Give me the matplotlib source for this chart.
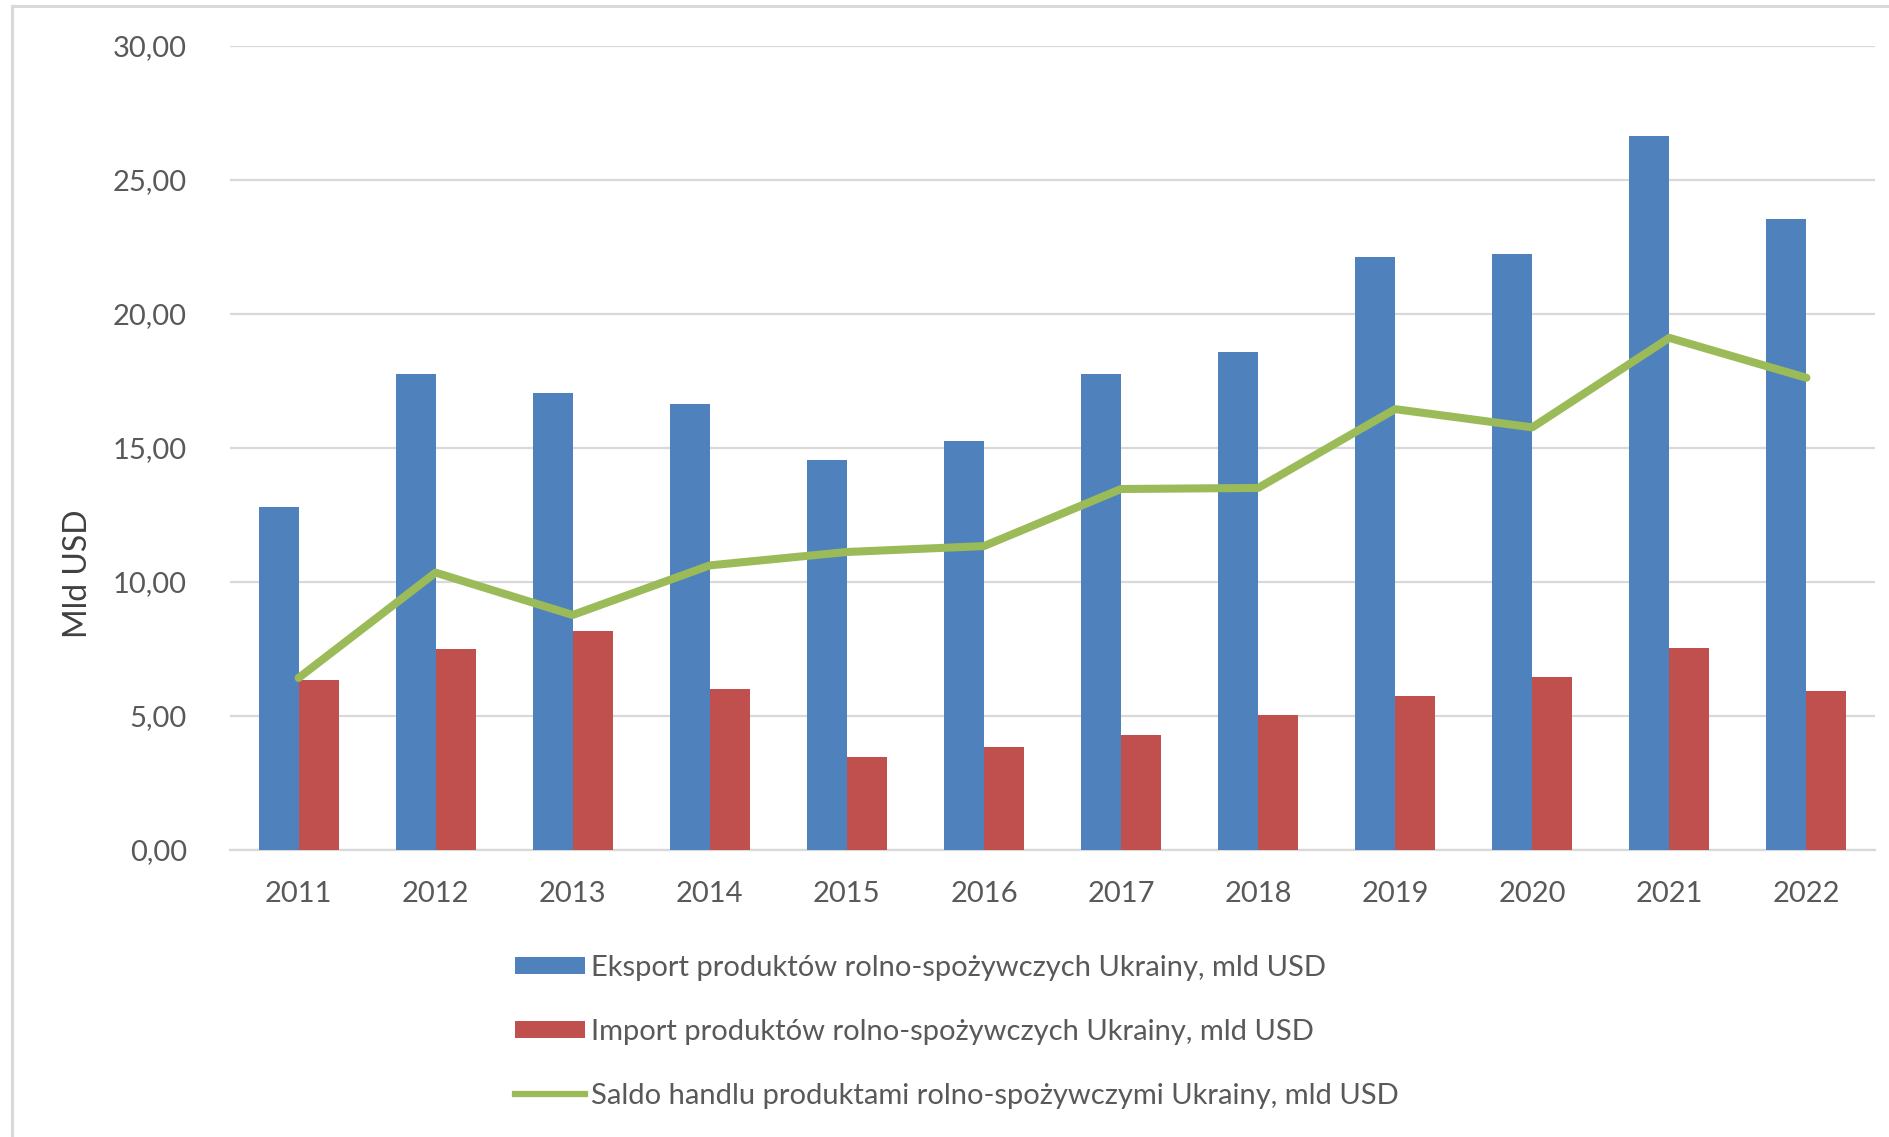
import matplotlib
matplotlib.use("Agg")
import matplotlib.pyplot as plt
import numpy as np
from matplotlib.patches import Patch
from matplotlib.lines import Line2D
from matplotlib.ticker import FuncFormatter

years = ["2011", "2012", "2013", "2014", "2015", "2016", "2017", "2018", "2019", "2020", "2021", "2022"]
eksport = [12.79, 17.76, 17.04, 16.63, 14.55, 15.27, 17.76, 18.57, 22.14, 22.23, 26.66, 23.54]
import_ = [6.33, 7.50, 8.18, 6.01, 3.48, 3.84, 4.29, 5.02, 5.74, 6.46, 7.55, 5.92]
saldo = [6.42, 10.35, 8.77, 10.62, 11.12, 11.34, 13.47, 13.51, 16.45, 15.77, 19.11, 17.62]

labels = [
    "Eksport produktów rolno-spożywczych Ukrainy, mld USD",
    "Import produktów rolno-spożywczych Ukrainy, mld USD",
    "Saldo handlu produktami rolno-spożywczymi Ukrainy, mld USD",
]

BLUE = "#4F81BD"
RED = "#C0504D"
GREEN = "#9BBB59"
GRID = "#D9D9D9"
TXT = "#595959"

plt.rcParams['font.family'] = ['Lato', 'DejaVu Sans']

W, H = 1890, 1137
fig = plt.figure(figsize=(W / 100, H / 100), dpi=100)
fig.patch.set_facecolor("white")

ax = fig.add_axes([230 / W, 1 - 850 / H, 1645 / W, 804 / H])

x = np.arange(len(years))
w = 0.292
ax.bar(x - w / 2, eksport, width=w, color=BLUE, zorder=3)
ax.bar(x + w / 2, import_, width=w, color=RED, zorder=3)
ax.plot(x, saldo, color=GREEN, linewidth=5.8, solid_capstyle="round", solid_joinstyle="round", zorder=4)

ax.set_xlim(-0.5, len(years) - 0.5)
ax.set_ylim(0, 30)
ax.set_yticks(np.arange(0, 31, 5))
ax.yaxis.set_major_formatter(FuncFormatter(lambda v, p: f"{v:.2f}".replace(".", ",")))
ax.set_xticks(x)
ax.set_xticklabels(years)

ax.grid(axis="y", color=GRID, linewidth=1.6, zorder=0)
ax.set_axisbelow(True)
for s in ["top", "right", "left"]:
    ax.spines[s].set_visible(False)
ax.spines["bottom"].set_color(GRID)
ax.spines["bottom"].set_linewidth(1.6)
ax.tick_params(axis="both", length=0, labelsize=21, labelcolor=TXT)
ax.tick_params(axis="y", pad=31)
ax.tick_params(axis="x", pad=22)

fig.text(78 / W, 1 - 574 / H, "Mld USD", rotation=90, ha="center", va="center",
         fontsize=23, color="#404040")

handles = [
    Patch(facecolor=BLUE, edgecolor="none"),
    Patch(facecolor=RED, edgecolor="none"),
    Line2D([0], [0], color=GREEN, linewidth=4.5),
]
leg = fig.legend(handles, labels, loc="upper left", bbox_to_anchor=(515 / W, 1 - 955 / H),
                 frameon=False, fontsize=21, labelcolor=TXT, handlelength=2.4,
                 handleheight=0.55, handletextpad=0.2, labelspacing=1.3, borderpad=0,
                 borderaxespad=0)

# outer border (left and top)
fig.add_artist(Line2D([12 / W, 12 / W], [0, 1 - 6 / H], transform=fig.transFigure, color=GRID, linewidth=2.2))
fig.add_artist(Line2D([12 / W, 1], [1 - 6 / H, 1 - 6 / H], transform=fig.transFigure, color=GRID, linewidth=2.2))

fig.savefig("out.png", dpi=100, facecolor="white")
